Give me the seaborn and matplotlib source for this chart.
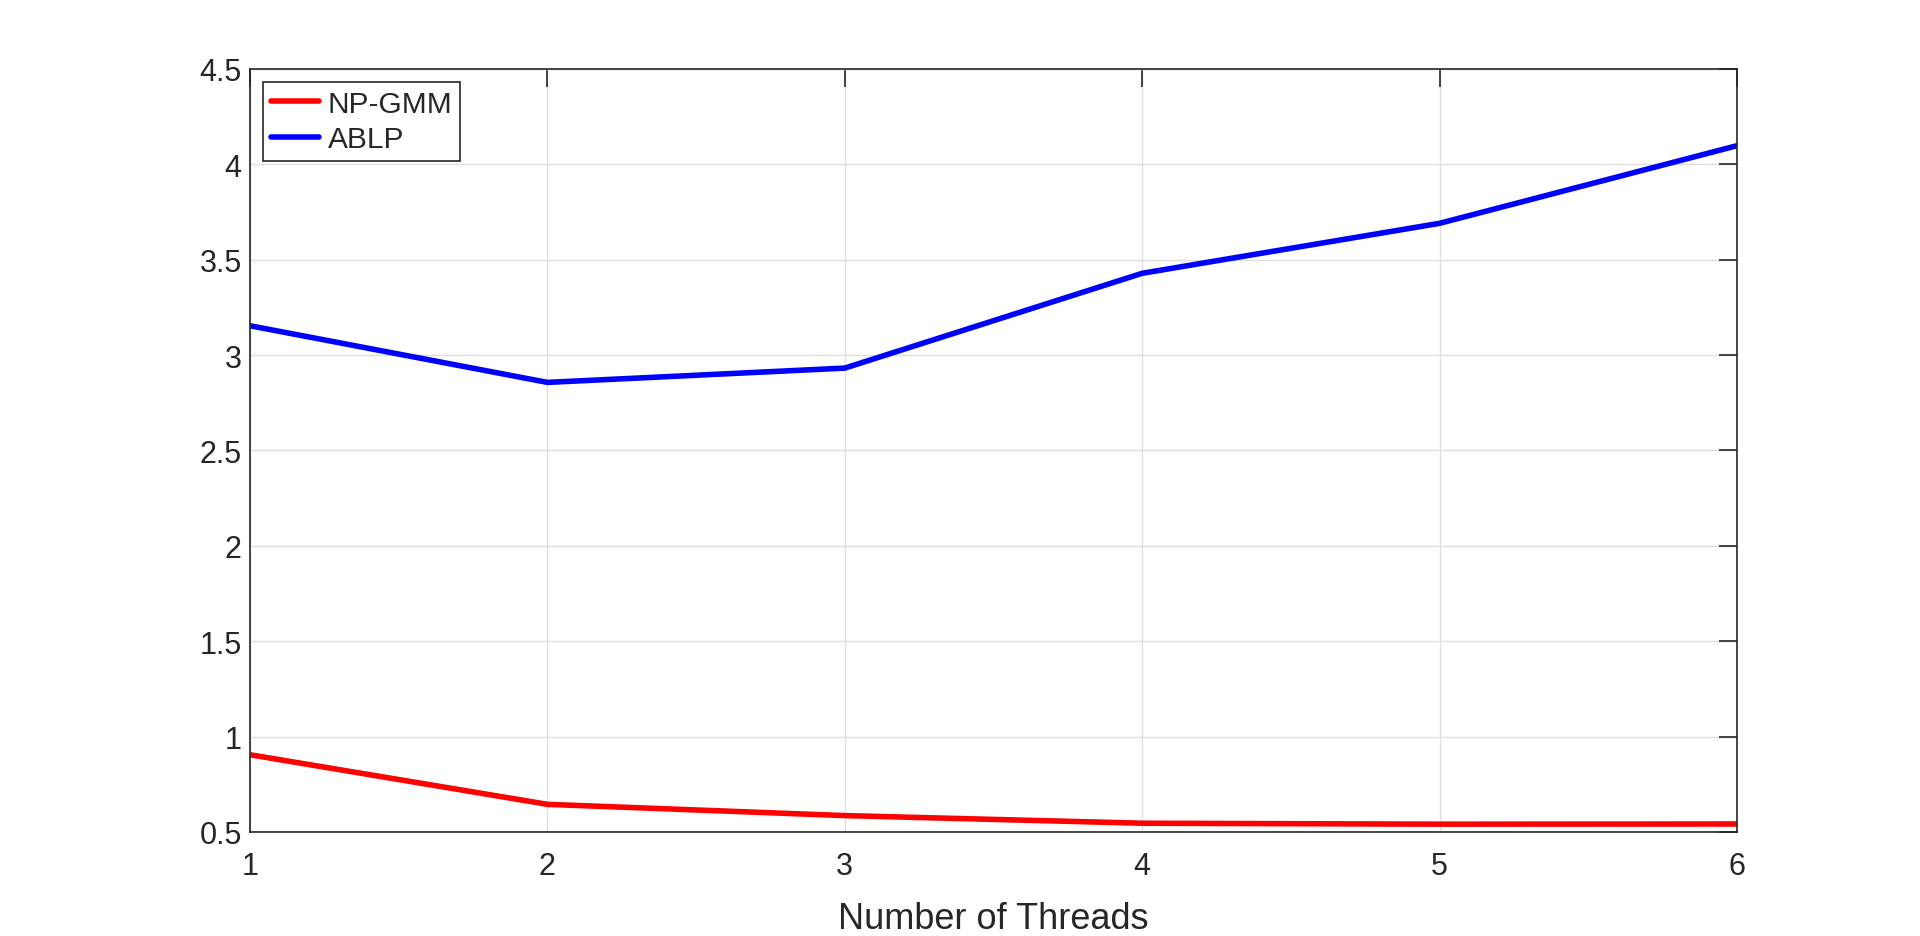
import pandas as pd
import matplotlib.pyplot as plt
import seaborn as sns

threads = [1, 2, 3, 4, 5, 6]
np_gmm = [0.905, 0.645, 0.586, 0.546, 0.541, 0.542]
ablp = [3.154, 2.857, 2.932, 3.429, 3.691, 4.098]

df = pd.DataFrame({
    "threads": threads * 2,
    "value": np_gmm + ablp,
    "method": ["NP-GMM"] * 6 + ["ABLP"] * 6,
})

sns.set_style("white")
plt.rcParams["font.family"] = ["Liberation Sans", "DejaVu Sans"]

fig = plt.figure(figsize=(19.2, 9.37), dpi=100)
ax = fig.add_axes([0.1302, 0.111, 0.7745, 0.8143])

sns.lineplot(data=df, x="threads", y="value", hue="method",
             palette={"NP-GMM": "#ff0000", "ABLP": "#0000ff"},
             linewidth=4, ax=ax)

ax.set_xlim(1, 6)
ax.set_ylim(0.5, 4.5)
ax.set_xticks(threads)
ax.set_yticks([0.5, 1, 1.5, 2, 2.5, 3, 3.5, 4, 4.5])
ax.set_yticklabels(["0.5", "1", "1.5", "2", "2.5", "3", "3.5", "4", "4.5"])
ax.set_xlabel("Number of Threads", fontsize=26, color="#262626", labelpad=14)
ax.set_ylabel("")

ax.grid(True, color="#dfdfdf", linewidth=1)
ax.tick_params(direction="in", length=13, width=1.2, colors="#262626",
               labelsize=22, top=True, right=True)
ax.tick_params(axis="x", pad=14)
ax.tick_params(axis="y", pad=6)
for s in ax.spines.values():
    s.set_color("#262626")
    s.set_linewidth(1.2)

leg = ax.legend(loc="upper left", fontsize=21.5, frameon=True, fancybox=False,
                edgecolor="#262626", handlelength=1.6, handletextpad=0.3,
                borderaxespad=0.45, borderpad=0.25, labelspacing=0.25)
leg.get_frame().set_linewidth(1.2)
leg.get_frame().set_alpha(1)

plt.savefig("out.png", dpi=100)
